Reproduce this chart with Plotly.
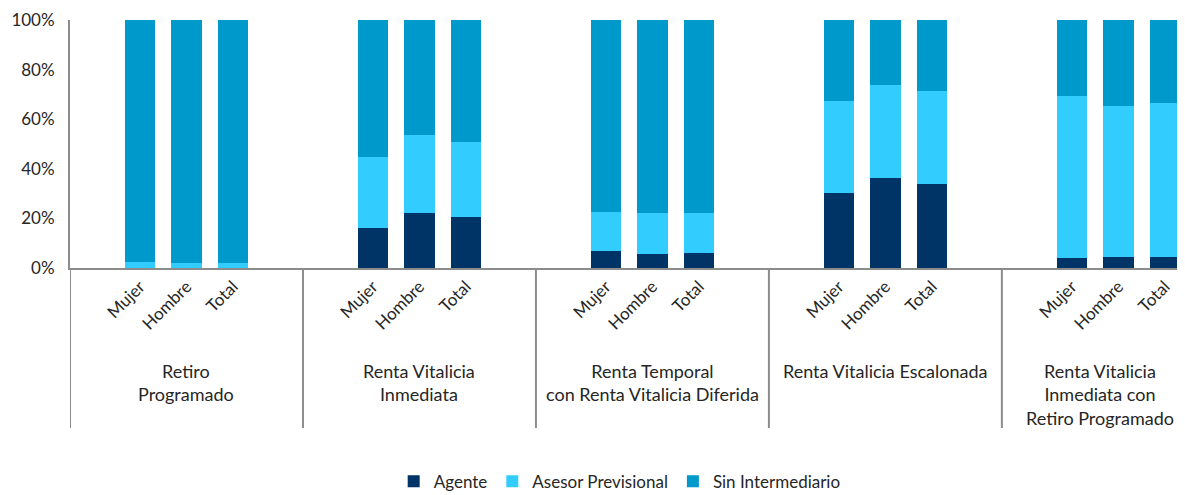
import plotly.graph_objects as go

# Datos (porcentaje de pensiones por tipo de intermediario)
grupos = [
    "Retiro<br>Programado",
    "Renta Vitalicia<br>Inmediata",
    "Renta Temporal<br>con Renta Vitalicia Diferida",
    "Renta Vitalicia Escalonada",
    "Renta Vitalicia<br>Inmediata con<br>Retiro Programado",
]
subgrupos = ["Mujer", "Hombre", "Total"]
ticks_y = [0, 20, 40, 60, 80, 100]

agente = [
    0.0, 0.0, 0.0,
    16.3, 22.3, 20.4,
    6.9, 5.6, 6.0,
    30.4, 36.2, 34.0,
    3.9, 4.6, 4.6,
]
asesor = [
    2.3, 2.0, 2.0,
    28.6, 31.2, 30.4,
    15.7, 16.7, 16.3,
    37.1, 37.6, 37.5,
    65.5, 60.7, 61.8,
]
sin_intermediario = [
    97.7, 98.0, 98.0,
    55.1, 46.5, 49.2,
    77.4, 77.7, 77.7,
    32.5, 26.2, 28.5,
    30.6, 34.7, 33.6,
]

series = [
    ("Agente", agente, "#003366"),
    ("Asesor Previsional", asesor, "#33CCFF"),
    ("Sin Intermediario", sin_intermediario, "#0099CC"),
]

# Cada grupo ocupa 5 posiciones: hueco, Mujer, Hombre, Total, hueco
slots = 5
x_pos = [g * slots + s + 1 for g in range(len(grupos)) for s in range(len(subgrupos))]
x_text = [subgrupos[s] for g in range(len(grupos)) for s in range(len(subgrupos))]
x_fin = 23.43  # el gráfico original está recortado a la derecha

fuente = "Lato"
gris = "#8c8c8c"
texto = "#262626"

fig = go.Figure()
for nombre, valores, color in series:
    fig.add_trace(go.Bar(
        x=x_pos,
        y=valores,
        name=nombre,
        width=0.65,
        marker=dict(color=color, line=dict(width=0)),
    ))

# Separadores verticales entre grupos
for g in range(len(grupos)):
    fig.add_shape(type="line", xref="x", yref="paper",
                  x0=g * slots - 0.5, x1=g * slots - 0.5, y0=0, y1=-0.645,
                  line=dict(color=gris, width=2))

# Etiquetas de grupo (la última centrada en la parte visible)
for g, nombre in enumerate(grupos):
    centro = g * slots + 2
    if g == len(grupos) - 1:
        centro = (g * slots - 0.5 + x_fin) / 2 + 0.15
    fig.add_annotation(
        x=centro, y=-0.363, xref="x", yref="paper",
        text=nombre, showarrow=False, yanchor="top", xanchor="center",
        font=dict(family=fuente, size=18, color=texto),
        align="center",
    )

fig.update_layout(
    barmode="stack",
    width=1177, height=487,
    margin=dict(l=62, r=0, t=12, b=227, autoexpand=False),
    plot_bgcolor="white", paper_bgcolor="white",
    font=dict(family=fuente, size=17, color=texto),
    bargap=0,
    legend=dict(orientation="h", x=0.493, xanchor="center", y=-0.862, yanchor="middle",
                font=dict(family=fuente, size=17, color=texto),
                itemwidth=30, traceorder="normal"),
)

fig.update_xaxes(
    range=[-0.5, x_fin],
    tickvals=x_pos, ticktext=x_text, tickangle=-45,
    showline=True, linecolor=gris, linewidth=2,
    showgrid=False, zeroline=False, ticks="",
    automargin=False,
    tickfont=dict(family=fuente, size=17, color=texto),
)
fig.update_yaxes(
    range=[0, 100], tickvals=ticks_y, ticktext=[f"{v}%" for v in ticks_y],
    showline=True, linecolor=gris, linewidth=2,
    showgrid=False, zeroline=False, ticks="",
    automargin=False,
    ticklabelstandoff=10,
    tickfont=dict(family=fuente, size=17, color=texto),
)

fig.write_html("out.html")
